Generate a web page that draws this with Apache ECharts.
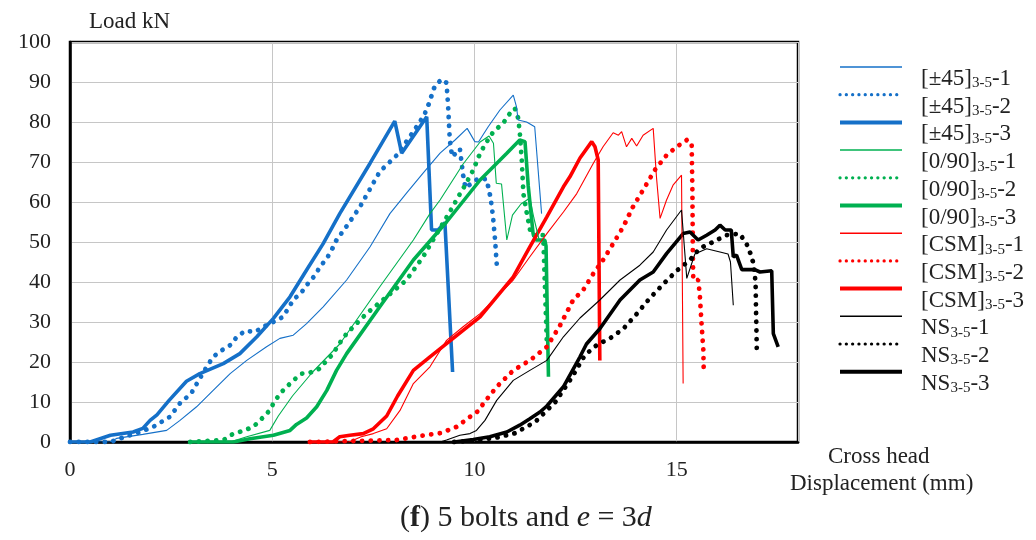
<!DOCTYPE html>
<html>
<head>
<meta charset="utf-8">
<title>Load–displacement curves, 5 bolts, e = 3d</title>
<script src="https://cdn.jsdelivr.net/npm/echarts@6/dist/echarts.min.js"></script>
<style>
  html, body { margin: 0; padding: 0; background: #fff; }
  #chart { width: 1036px; height: 540px; }
</style>
</head>
<body>
<div id="chart"></div>
<script>
// Axis ticks
const xTicks = [0, 5, 10, 15];
const yTicks = [0, 10, 20, 30, 40, 50, 60, 70, 80, 90, 100];

// Legend / series names
const seriesNames = [
  '[±45]3-5-1', '[±45]3-5-2', '[±45]3-5-3',
  '[0/90]3-5-1', '[0/90]3-5-2', '[0/90]3-5-3',
  '[CSM]3-5-1', '[CSM]3-5-2', '[CSM]3-5-3',
  'NS3-5-1', 'NS3-5-2', 'NS3-5-3'
];

// Cross head displacement (mm), load (kN)
const pm45_1 = [[0,0],[0.99,0],[1.15,0.9],[1.8,1.9],[2.39,2.9],[2.72,5.4],[3.13,8.8],[3.54,12.9],[3.96,17.1],[4.37,20.4],[4.86,23.8],[5.19,25.9],[5.52,26.7],[5.85,29.6],[6.26,33.8],[6.84,40.5],[7.42,48.8],[7.91,57.1],[8.32,62.2],[8.73,67.2],[9.15,72.2],[9.52,75.5],[9.82,78.4],[10.01,75.1],[10.1,75],[10.34,78.8],[10.63,83],[10.96,86.7],[11.04,83.8],[11.08,80.5],[11.29,80],[11.49,78.8],[11.66,57.1]];
const pm45_2 = [[0,0],[1.0,0],[1.24,0.9],[1.73,2.5],[2.06,3.8],[2.47,6.3],[2.72,9.7],[3.0,12.2],[3.13,14.5],[3.38,18.8],[3.54,21.3],[3.75,22.9],[3.96,24.2],[4.12,26.2],[4.33,27.8],[4.57,27.5],[4.78,28.8],[5.03,30],[5.27,31.3],[5.52,35.5],[5.73,37.5],[5.89,39.7],[6.06,41.7],[6.18,43.8],[6.35,45.9],[6.47,48],[6.59,50.5],[6.88,54.5],[7.17,58.8],[7.66,67.6],[8.08,71.7],[8.49,77.6],[8.65,80],[8.82,83],[9.02,89],[9.19,90.7],[9.31,89.8],[9.35,83.8],[9.39,75.5],[9.45,71.3],[9.64,73.3],[9.72,66.7],[9.78,63.5],[9.93,64.7],[10.1,65.9],[10.3,65.7],[10.4,61],[10.46,56.3],[10.51,50.5],[10.55,44.6]];
const pm45_3 = [[0,0],[0.5,0],[1.0,1.7],[1.56,2.5],[1.8,3.4],[1.98,5.4],[2.15,6.8],[2.45,10.4],[2.88,15.2],[3.21,17.1],[3.79,19.6],[4.2,22.1],[4.62,26.3],[5.03,30.9],[5.44,36.3],[5.85,43],[6.26,49.6],[6.67,57.1],[7.42,69.7],[8.03,80.2],[8.2,72.2],[8.82,81.3],[8.94,53],[9.1,53],[9.27,54.8],[9.46,17.5]];

const n090_1 = [[2.97,0],[3.96,0],[4.37,1.3],[4.94,2.9],[5.15,6.5],[5.5,11.5],[6.0,17.5],[6.67,24.5],[7.66,38.8],[8.49,50.5],[8.9,57.1],[9.15,60.5],[9.72,69.5],[10.14,75],[10.36,76.5],[10.47,74.7],[10.54,64.7],[10.67,64.5],[10.8,50.5],[10.94,56.7],[11.15,59.5],[11.37,61],[11.47,56],[11.6,50.5]];
const n090_2 = [[2.97,0],[3.8,0.5],[4.04,2.1],[4.29,2.8],[4.53,3.8],[4.7,5.4],[4.9,7.5],[5.03,9.6],[5.19,12.1],[5.36,13.8],[5.52,15.4],[5.73,17.1],[5.93,17.3],[6.18,18.4],[6.35,20.4],[6.51,22.1],[6.63,24.2],[6.84,27.1],[7.33,32.1],[7.83,36.3],[8.32,40.5],[8.73,46.3],[9.07,52.1],[9.39,57.5],[9.64,62],[9.77,64.2],[9.97,68],[10.14,72.2],[10.3,75],[10.47,77.6],[10.71,79.7],[10.88,82.2],[11.0,83.4],[11.08,81],[11.12,77.5],[11.17,70.5],[11.21,62.1],[11.29,57.5],[11.4,51.7],[11.7,51.7],[11.79,24.6]];
const n090_3 = [[2.97,0],[4.04,0],[4.45,0.8],[5.03,1.7],[5.44,2.9],[5.6,4.4],[5.85,6],[6.1,8.8],[6.35,12.9],[6.59,17.9],[6.84,22.1],[7.66,33.8],[8.49,45.5],[9.31,55],[10.14,65.5],[10.8,72.2],[11.12,75.5],[11.25,75.1],[11.33,64],[11.45,52.1],[11.52,50.5],[11.74,50.5],[11.77,49],[11.83,16.3]];

const csm_1 = [[5.93,0],[6.9,0],[7.2,1.3],[7.5,2.1],[7.83,3.3],[8.16,7.9],[8.49,14.6],[8.9,18.8],[9.31,25.4],[9.72,28.8],[10.14,32.1],[10.55,36.3],[10.96,40.5],[11.37,46.3],[11.79,52.1],[12.2,57.5],[12.53,62.1],[12.94,69.7],[13.18,73.8],[13.43,77.3],[13.56,76.7],[13.64,77.6],[13.76,73.8],[13.89,75.9],[14.01,74],[14.17,76.7],[14.42,78.4],[14.5,66.3],[14.59,55.9],[14.75,60.5],[14.91,64.2],[15.12,66.7],[15.16,14.6]];
const csm_2 = [[5.93,0],[8.08,0.5],[8.65,1.5],[9.15,2.2],[9.56,3.8],[9.89,6.3],[10.1,7.8],[10.22,9.6],[10.55,13.8],[10.96,17.9],[11.37,20.4],[11.79,23.8],[12.11,29],[12.44,35.5],[12.69,38],[12.94,42.1],[13.18,45.5],[13.43,49.6],[13.68,53.8],[13.92,58.8],[14.17,63],[14.46,68],[14.75,71.7],[15.0,73.8],[15.25,75.5],[15.37,74.8],[15.39,62],[15.4,47],[15.41,40.5],[15.53,40.5],[15.57,37.1],[15.62,28.8],[15.66,23],[15.67,17.5]];
const csm_3 = [[5.93,0],[6.5,0],[6.67,1.3],[6.92,1.7],[7.25,2.1],[7.5,3.3],[7.83,6.5],[8.1,11.5],[8.49,17.9],[8.9,21.3],[9.31,24.6],[9.72,27.9],[10.14,31.3],[10.55,36.3],[10.96,41.3],[11.37,48.8],[11.79,56.3],[12.2,63.8],[12.36,66.3],[12.61,71],[12.9,75.1],[12.98,73.8],[13.06,70.5],[13.1,20.4]];

const ns_1 = [[9.15,0],[9.31,0.5],[9.64,1.7],[9.89,2.1],[10.05,2.9],[10.26,5.4],[10.55,10.4],[10.96,15.4],[11.37,17.9],[11.79,20.4],[12.2,26.3],[12.61,31],[13.1,35.5],[13.6,40.5],[14.09,44.2],[14.42,47.5],[14.75,53],[15.12,58],[15.25,40.9],[15.45,47],[15.74,48.3],[16.07,47.5],[16.27,47],[16.33,45],[16.4,34.2]];
const ns_2 = [[9.5,0],[10.0,0.4],[10.5,1],[11.0,2.2],[11.5,5],[12.0,10],[12.4,16],[12.73,21.7],[13.02,24.2],[13.35,25.9],[13.68,28.3],[14.01,32],[14.34,36],[14.67,39.5],[15.0,42.8],[15.33,45.5],[15.57,48.4],[15.9,50],[16.23,51.7],[16.56,52.1],[16.77,48.8],[16.9,44.6],[16.95,40],[16.98,23.4]];
const ns_3 = [[9.5,0],[9.97,0.6],[10.38,1.3],[10.8,2.5],[11.12,4.2],[11.37,5.8],[11.62,7.5],[11.79,9],[12.2,13.8],[12.61,21.3],[12.77,24.5],[13.1,28.3],[13.6,35.5],[14.09,40.5],[14.42,42.5],[14.75,47.1],[15.16,52.1],[15.33,52.5],[15.53,50.5],[15.74,51.7],[15.95,53],[16.07,54.2],[16.2,53],[16.35,53],[16.4,46.3],[16.48,46.7],[16.61,43.1],[16.93,43.1],[17.06,42.5],[17.35,42.8],[17.39,27.1],[17.51,23.8]];

const seriesData = [pm45_1, pm45_2, pm45_3, n090_1, n090_2, n090_3, csm_1, csm_2, csm_3, ns_1, ns_2, ns_3];

const BLUE = '#1570c8', GREEN = '#00b050', RED = '#ff0000', BLACK = '#000000';
const colors = [BLUE, BLUE, BLUE, GREEN, GREEN, GREEN, RED, RED, RED, BLACK, BLACK, BLACK];
// thin solid, dotted, thick solid for each specimen group
const styleKinds = ['thin', 'dot', 'thick'];
const SERIF = '"Liberation Serif", "Times New Roman", serif';
const NO_MARK = { color: 'rgba(0,0,0,0)', borderWidth: 0, opacity: 0 };

function lineStyleFor(kind, color) {
  if (kind === 'thin') return { color, width: 1.1, type: 'solid' };
  if (kind === 'thick') return { color, width: 3.6, type: 'solid' };
  return { color, width: 4.8, type: [0.1, 8.6], cap: 'round' };
}
function legendLineFor(kind) {
  if (kind === 'thin') return { width: 1.5 };
  if (kind === 'thick') return { width: 4 };
  return { width: 3.2, type: [0.1, 6.2], cap: 'round' };
}

const series = seriesData.map((d, i) => {
  const kind = styleKinds[i % 3];
  return {
    name: seriesNames[i],
    type: 'line',
    data: d,
    symbol: 'none',
    showSymbol: false,
    color: colors[i],
    lineStyle: lineStyleFor(kind, colors[i]),
    z: kind === 'thin' ? 3 : 2,
    silent: true
  };
});

const chart = echarts.init(document.getElementById('chart'), null, { renderer: 'canvas' });

chart.setOption({
  animation: false,
  backgroundColor: '#ffffff',
  title: [
    { text: 'Load kN', left: 89, top: 10, padding: 0,
      textStyle: { fontFamily: SERIF, fontSize: 23, fontWeight: 'normal', color: '#222' } },
    { text: 'Cross head', left: 828, top: 445, padding: 0,
      textStyle: { fontFamily: SERIF, fontSize: 23, fontWeight: 'normal', color: '#222' } },
    { text: 'Displacement (mm)', left: 790, top: 472, padding: 0,
      textStyle: { fontFamily: SERIF, fontSize: 23, fontWeight: 'normal', color: '#222' } },
    { text: '(' + '{b|f}' + ') 5 bolts and ' + '{i|e}' + ' = 3' + '{i|d}', left: 400, top: 503, padding: 0,
      textStyle: { fontFamily: SERIF, fontSize: 30, fontWeight: 'normal', color: '#222',
        rich: {
          b: { fontFamily: SERIF, fontSize: 30, fontWeight: 'bold', color: '#222' },
          i: { fontFamily: SERIF, fontSize: 30, fontStyle: 'italic', color: '#222' }
        } } }
  ],
  legend: {
    orient: 'vertical',
    left: 838,
    top: 43,
    padding: 0,
    itemWidth: 62,
    itemHeight: 14,
    itemGap: -20.3,
    selectedMode: false,
    itemStyle: NO_MARK,
    data: seriesNames.map((n, i) => ({ name: n, itemStyle: NO_MARK, lineStyle: legendLineFor(styleKinds[i % 3]) })),
    formatter: (name) => name.replace('3-5', '{s|3-5}'),
    textStyle: {
      fontFamily: SERIF, fontSize: 23, color: '#222', lineHeight: 24,
      padding: [24, 0, 0, 14],
      rich: {
        s: { fontFamily: SERIF, fontSize: 15, color: '#222', lineHeight: 10, verticalAlign: 'bottom' }
      }
    }
  },
  grid: {
    left: 70, right: 238, top: 42, bottom: 98,
    show: true, borderColor: '#000', borderWidth: 2.5, backgroundColor: 'transparent'
  },
  xAxis: {
    type: 'value', min: 0, max: 18, interval: 5,
    axisLine: { show: true, onZero: false, lineStyle: { color: '#000', width: 2.5 } },
    axisTick: { show: false },
    splitLine: { show: true, lineStyle: { color: '#c6c6c6', width: 1 } },
    axisLabel: {
      showMaxLabel: false, margin: 17,
      fontFamily: SERIF, fontSize: 22, color: '#222',
      formatter: (v) => (xTicks.indexOf(v) >= 0 ? String(v) : '')
    }
  },
  yAxis: {
    type: 'value', min: 0, max: 100, interval: 10,
    axisLine: { show: true, onZero: false, lineStyle: { color: '#000', width: 2.5 } },
    axisTick: { show: false },
    splitLine: { show: true, lineStyle: { color: '#c6c6c6', width: 1 } },
    axisLabel: {
      margin: 19,
      fontFamily: SERIF, fontSize: 22, color: '#222',
      formatter: (v) => (yTicks.indexOf(v) >= 0 ? String(v) : '')
    }
  },
  series
});
</script>
</body>
</html>
